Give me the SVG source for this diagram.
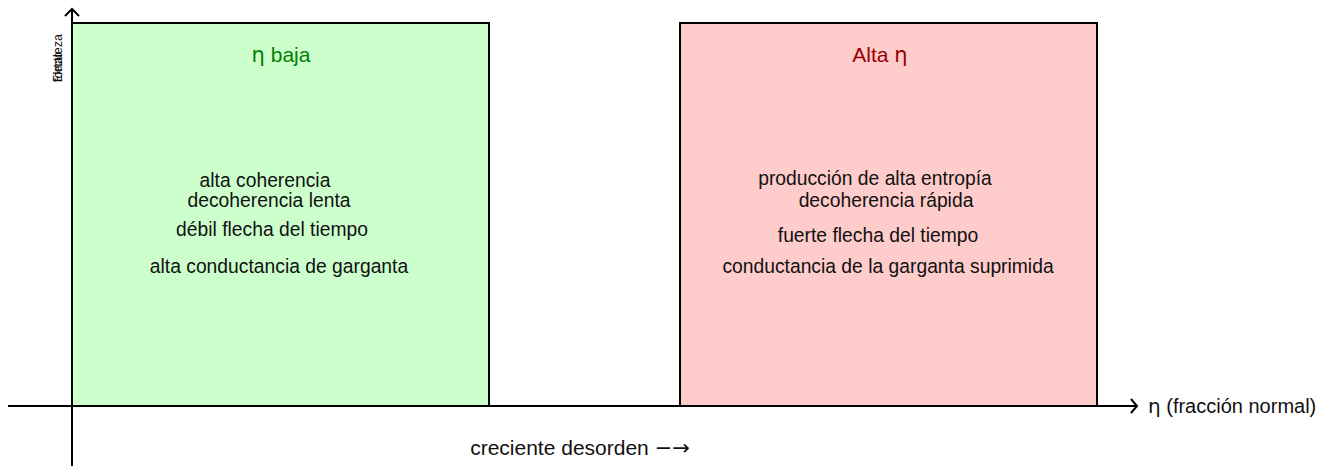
<svg xmlns="http://www.w3.org/2000/svg" width="1329" height="466" viewBox="0 0 1329 466">
<style>
.box{stroke:#000;stroke-width:2}
.t{font-family:"Liberation Sans",Arial,sans-serif;font-size:19.3px;fill:#111;text-anchor:middle}
.title{font-family:"Liberation Sans",Arial,sans-serif;font-size:21px;text-anchor:middle}
.g{font-family:"DejaVu Sans",sans-serif}
.ax{stroke:#000;stroke-width:2;fill:none}
</style>
<rect width="1329" height="466" fill="#fff"/>
<g id="low">
<rect class="box" x="72" y="23" width="417" height="383" fill="#ccffcc"/>
<text class="title" x="281" y="62" fill="#008000"><tspan class="g">η</tspan> baja</text>
<text class="t" x="265" y="187">alta coherencia</text>
<text class="t" x="269" y="207">decoherencia lenta</text>
<text class="t" x="272" y="236">débil flecha del tiempo</text>
<text class="t" x="279" y="273">alta conductancia de garganta</text>
</g>
<g id="high">
<rect class="box" x="680" y="23" width="417" height="383" fill="#ffcccc"/>
<text class="title" x="880" y="62" fill="#990000">Alta <tspan class="g">η</tspan></text>
<text class="t" x="875" y="185">producción de alta entropía</text>
<text class="t" x="886" y="207">decoherencia rápida</text>
<text class="t" x="878" y="242">fuerte flecha del tiempo</text>
<text class="t" x="888" y="273">conductancia de la garganta suprimida</text>
</g>
<g id="axes">
<path class="ax" d="M72,466 V9"/>
<path class="ax" d="M65,16 L72,9 L79,16"/>
<path class="ax" d="M8,406 H1137"/>
<path class="ax" d="M1131,399 L1137,406 L1131,413"/>
<text x="1148" y="413" font-family="Liberation Sans,Arial,sans-serif" font-size="20" fill="#111"><tspan class="g">η</tspan> (fracción normal)</text>
<text class="t" x="580" y="455" style="font-size:21px">creciente desorden <tspan class="g">−→</tspan></text>
<g font-family="Liberation Sans,Arial,sans-serif" font-size="13" fill="#111">
<text transform="translate(62,82) rotate(-90)" textLength="30" lengthAdjust="spacingAndGlyphs">Efecto</text>
<text transform="translate(62,82) rotate(-90)" textLength="48" lengthAdjust="spacingAndGlyphs">fortaleza</text>
</g>
</g>
</svg>
